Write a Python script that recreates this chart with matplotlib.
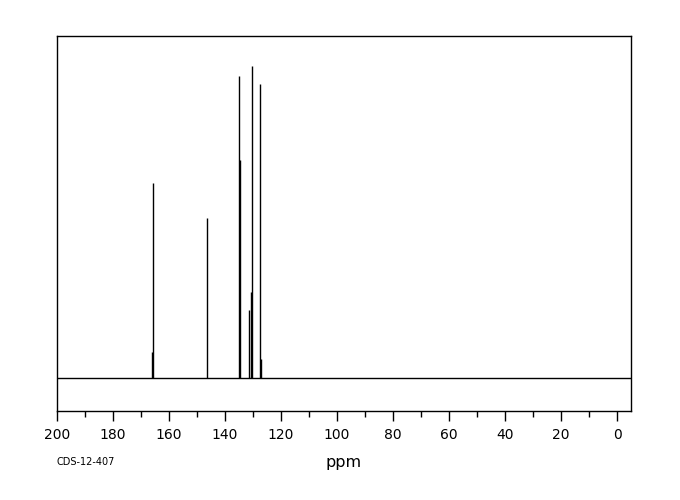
import matplotlib
matplotlib.use("Agg")
import matplotlib.pyplot as plt
from matplotlib.ticker import MultipleLocator

# Peak list (ppm, height above baseline in px-like units)
peak_ppm = [165.9, 165.7, 146.6, 135.0, 134.6, 131.4, 130.8, 130.4, 127.4, 127.1]
peak_height = [26, 195, 160, 302, 218, 68, 86, 312, 294, 19]

tick_values = [200, 180, 160, 140, 120, 100, 80, 60, 40, 20, 0]
tick_labels = ["200", "180", "160", "140", "120", "100", "80", "60", "40", "20", "0"]

fig = plt.figure(figsize=(6.8, 5.0), dpi=100)
ax = fig.add_axes([57 / 680, (500 - 411) / 500, (631 - 57) / 680, (411 - 36) / 500])

ax.axhline(0, color="black", lw=1.0)
ax.vlines(peak_ppm, 0, peak_height, color="black", lw=1.0)

ax.set_xlim(200, -5)
ax.set_ylim(-33, 342)

ax.set_xticks(tick_values)
ax.set_xticklabels(tick_labels)
ax.xaxis.set_minor_locator(MultipleLocator(10))
ax.tick_params(axis="x", which="major", direction="out", length=7.5, width=1,
               labelsize=10, pad=5)
ax.tick_params(axis="x", which="minor", direction="out", length=4.5, width=1)
ax.set_yticks([])
for s in ax.spines.values():
    s.set_linewidth(1.0)

fig.text(344 / 680, 1 - 462 / 500, "ppm", ha="center", va="center", fontsize=11.5)
fig.text(57 / 680, 1 - 462 / 500, "CDS-12-407", ha="left", va="center", fontsize=7)

fig.savefig("out.png", dpi=100)
